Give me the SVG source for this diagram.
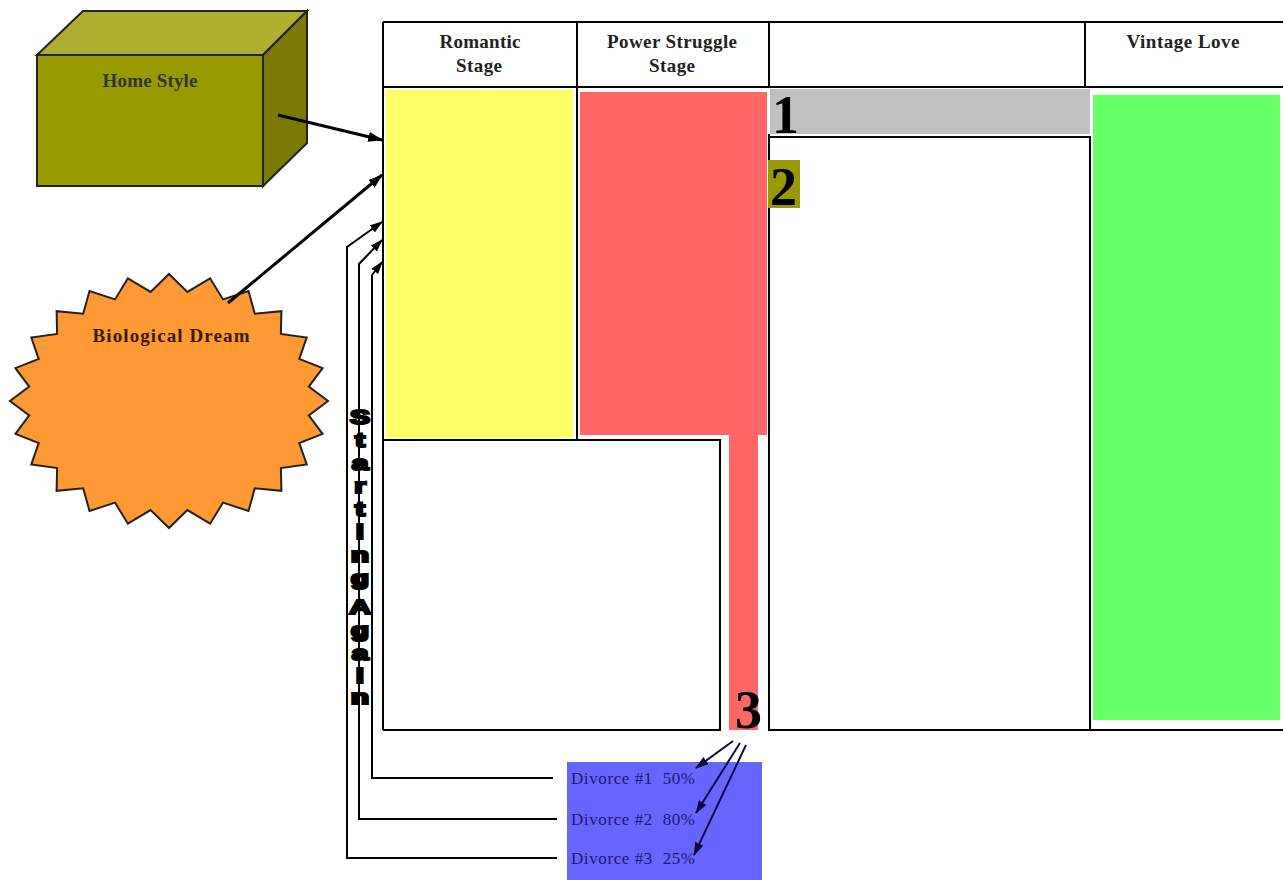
<svg xmlns="http://www.w3.org/2000/svg" width="1283" height="880" viewBox="0 0 1283 880">
<defs>
<style>
.hdr{font-family:"Liberation Serif",serif;font-weight:bold;font-size:19px;fill:#222;text-anchor:middle}
.big{font-family:"Liberation Serif",serif;font-weight:bold;font-size:54px;fill:#000}
.div{font-family:"Liberation Serif",serif;font-size:17px;fill:#1a1a70;white-space:pre}
.ln{fill:none;stroke:#000;stroke-width:2}
.ar{fill:none;stroke:#000;stroke-width:3}
.sg{font-family:"Liberation Sans",sans-serif;font-weight:bold;font-size:20px;fill:#000;stroke:#000;stroke-width:2.2;text-anchor:middle}
</style>
<marker id="ah" viewBox="0 0 12 8" refX="11" refY="4" markerWidth="15" markerHeight="10" markerUnits="userSpaceOnUse" orient="auto">
<path d="M0,0 L12,4 L0,8 z" fill="#000"/>
</marker>
<marker id="ahs" viewBox="0 0 12 8" refX="11" refY="4" markerWidth="13" markerHeight="9" markerUnits="userSpaceOnUse" orient="auto">
<path d="M0,0 L12,4 L0,8 z" fill="#000"/>
</marker>
<marker id="ahn" viewBox="0 0 12 8" refX="11" refY="4" markerWidth="14" markerHeight="9" markerUnits="userSpaceOnUse" orient="auto">
<path d="M0,0 L12,4 L0,8 z" fill="#0a0a40"/>
</marker>
</defs>
<rect width="1283" height="880" fill="#fff"/>

<g id="table">
<rect x="386" y="90" width="187" height="348" fill="#ffff66"/>
<rect x="580" y="92" width="187" height="343" fill="#ff6666"/>
<rect x="729" y="433" width="29" height="297" fill="#ff6666"/>
<rect x="770" y="89" width="320" height="45" fill="#c0c0c0"/>
<rect x="1093" y="95" width="187" height="625" fill="#66ff66"/>
<path class="ln" d="M383,22 H1283 M383,87 H1283 M383,22 V730 M577,22 V440 M769,22 V87 M1085,22 V87"/>
<path class="ln" d="M383,440 H720 V730 H383"/>
<path class="ln" d="M769,137 H1090 V730 M769,134 V730 H1283"/>
<text class="hdr" x="480" y="48" textLength="81">Romantic</text>
<text class="hdr" x="479" y="72" textLength="46">Stage</text>
<text class="hdr" x="672" y="48" textLength="130">Power Struggle</text>
<text class="hdr" x="672" y="72" textLength="46">Stage</text>
<text class="hdr" x="1183" y="48" textLength="113">Vintage Love</text>
<text class="big" x="772" y="133">1</text>
<rect x="768" y="160" width="32" height="48" fill="#999900"/>
<text class="big" x="770" y="205">2</text>
<text class="big" x="735" y="728">3</text>
</g>

<g id="home-style">
<polygon points="37,55 83,11 307,11 263,55" fill="#b0ae30" stroke="#222" stroke-width="2"/>
<polygon points="263,55 307,11 307,143 263,186" fill="#7a7a00" stroke="#222" stroke-width="2"/>
<rect x="37" y="55" width="226" height="131" fill="#999900" stroke="#222" stroke-width="2"/>
<text class="hdr" x="150" y="87" textLength="95" style="fill:#333">Home Style</text>
</g>

<g id="biological-dream">
<polygon fill="#ff9933" stroke="#222" stroke-width="2" points="328,401 308.8,415.4 322.6,433.9 299.3,443.1 306.7,464.5 280.9,468 281.4,490.8 254.8,488.3 248.5,511 223,502.6 210.1,523.7 187.4,510.1 169,528 150.6,510.1 127.9,523.7 115,502.6 89.5,511 83.2,488.3 56.6,490.8 57.1,468 31.3,464.5 38.7,443.1 15.4,433.9 29.2,415.4 10,401 29.2,386.6 15.4,368.1 38.7,358.9 31.3,337.5 57.1,334 56.6,311.2 83.2,313.7 89.5,291 115,299.4 127.9,278.3 150.6,291.9 169,274 187.4,291.9 210.1,278.3 223,299.4 248.5,291 254.8,313.7 281.4,311.2 280.9,334 306.7,337.5 299.3,358.9 322.6,368.1 308.8,386.6"/>
<text class="hdr" x="171" y="342" textLength="157" style="fill:#3a1a00">Biological Dream</text>
</g>

<g id="divorce">
<rect x="567" y="762" width="195" height="118" fill="#6666ff"/>
<text class="div" x="571" y="784" textLength="124">Divorce #1  50%</text>
<text class="div" x="571" y="825" textLength="124">Divorce #2  80%</text>
<text class="div" x="571" y="864" textLength="124">Divorce #3  25%</text>
</g>

<g id="connectors">
<line class="ar" x1="278" y1="115" x2="382" y2="140" marker-end="url(#ah)"/>
<line class="ar" x1="228" y1="303" x2="382" y2="175" marker-end="url(#ah)"/>
<polyline class="ln" points="557,858 347,858 347,247 382,222" marker-end="url(#ahs)"/>
<polyline class="ln" points="557,819 359,819 359,264 382,240" marker-end="url(#ahs)"/>
<polyline class="ln" points="553,778 372,778 372,275 382,262" marker-end="url(#ahs)"/>
<line x1="733" y1="741" x2="696" y2="768" stroke="#0a0a40" stroke-width="2" marker-end="url(#ahn)"/>
<line x1="740" y1="743" x2="696" y2="813" stroke="#0a0a40" stroke-width="2" marker-end="url(#ahn)"/>
<line x1="746" y1="745" x2="694" y2="855" stroke="#0a0a40" stroke-width="2" marker-end="url(#ahn)"/>
</g>

<g id="starting-again" transform="translate(360,0) scale(1.5,1)">
<text class="sg" x="0" y="424">S</text>
<text class="sg" x="0" y="447">t</text>
<text class="sg" x="0" y="470">a</text>
<text class="sg" x="0" y="493">r</text>
<text class="sg" x="0" y="516">t</text>
<text class="sg" x="0" y="539">i</text>
<text class="sg" x="0" y="562">n</text>
<text class="sg" x="0" y="585">g</text>
<text class="sg" x="0" y="614">A</text>
<text class="sg" x="0" y="637">g</text>
<text class="sg" x="0" y="660">a</text>
<text class="sg" x="0" y="683">i</text>
<text class="sg" x="0" y="704">n</text>
</g>
</svg>
